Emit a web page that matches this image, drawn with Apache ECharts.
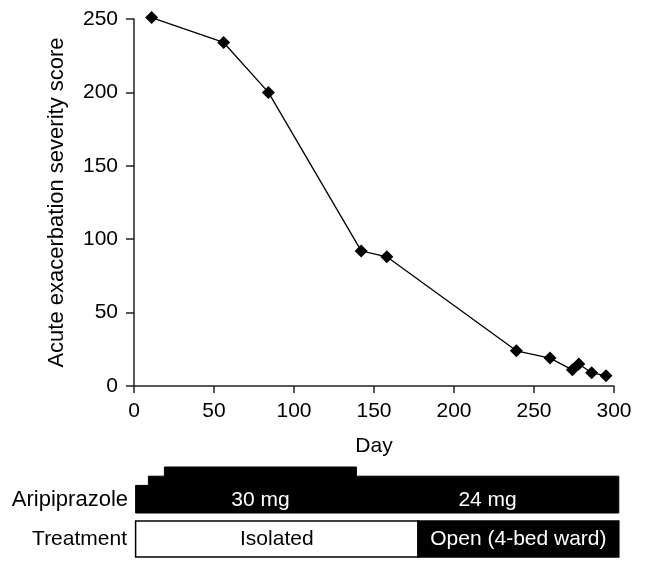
<!DOCTYPE html>
<html>
<head>
<meta charset="utf-8">
<script src="https://cdn.jsdelivr.net/npm/echarts@6/dist/echarts.min.js"></script>
<style>
html,body{margin:0;padding:0;background:#fff;}
#chart{width:646px;height:571px;}
</style>
</head>
<body>
<div id="chart"></div>
<script>
// Data
var days = [11, 56, 84, 142, 158, 239, 260, 274, 278, 286, 295];
var scores = [251, 234, 200, 92, 88, 24, 19, 11, 15, 9, 7];
var yTicks = [0, 50, 100, 150, 200, 250];
var xTicks = [0, 50, 100, 150, 200, 250, 300];

var doseStart = [1, 9, 19, 139];
var doseEnd = [9, 19, 139, 303];
var doseMg = [18, 24, 30, 24];
var doseLabel = ['', '', '30 mg', '24 mg'];

var treatStart = [1, 177.5];
var treatEnd = [177.5, 303];
var treatLabel = ['Isolated', 'Open (4-bed ward)'];

var rowLabels = ['Aripiprazole', 'Treatment'];

var FONT = '"Liberation Sans", Arial, sans-serif';

var chart = echarts.init(document.getElementById('chart'), null, {renderer: 'canvas'});

var doseData = doseStart.map(function (s, i) { return [s, doseEnd[i], doseMg[i]]; });
var treatData = treatStart.map(function (s, i) { return [s, treatEnd[i], i]; });

function renderDose(params, api) {
  var s = api.value(0), e = api.value(1), mg = api.value(2);
  var p0 = api.coord([s, 0]);
  var p1 = api.coord([e, mg]);
  var label = doseLabel[params.dataIndex];
  var children = [{
    type: 'rect',
    shape: {x: p0[0], y: p1[1], width: p1[0] - p0[0], height: p0[1] - p1[1]},
    style: {fill: '#000', stroke: '#000', lineWidth: 1}
  }];
  if (label) {
    var mid = api.coord([(s + e) / 2, 0]);
    children.push({
      type: 'text',
      z2: 10,
      style: {text: label, x: mid[0], y: mid[1] - 13, align: 'center', verticalAlign: 'middle',
        fill: '#fff', font: '21px ' + FONT}
    });
  }
  return {type: 'group', children: children};
}

function renderTreat(params, api) {
  var s = api.value(0), e = api.value(1), idx = api.value(2);
  var p0 = api.coord([s, 0]);
  var p1 = api.coord([e, 1]);
  var dark = idx === 1;
  var mid = api.coord([(s + e) / 2, 0.5]);
  return {type: 'group', children: [{
    type: 'rect',
    shape: {x: p0[0], y: p1[1], width: p1[0] - p0[0], height: p0[1] - p1[1]},
    style: {fill: dark ? '#000' : '#fff', stroke: '#000', lineWidth: 1.5}
  }, {
    type: 'text',
    z2: 10,
    style: {text: treatLabel[params.dataIndex], x: mid[0], y: mid[1], align: 'center', verticalAlign: 'middle',
      fill: dark ? '#fff' : '#000', font: '21px ' + FONT}
  }]};
}

var option = {
  backgroundColor: '#fff',
  animation: false,
  textStyle: {fontFamily: FONT},
  grid: [
    {left: 134, right: 32, top: 19, bottom: 185},
    {left: 134, right: 32, top: 467, height: 46},
    {left: 134, right: 32, top: 521, height: 36}
  ],
  xAxis: [{
    gridIndex: 0, type: 'value', min: 0, max: 300, interval: 50,
    name: 'Day', nameLocation: 'middle', nameGap: 50,
    nameTextStyle: {fontSize: 21, color: '#000', fontFamily: FONT},
    axisLine: {lineStyle: {color: '#222', width: 1.5}},
    axisTick: {length: 7, lineStyle: {color: '#222', width: 1.5}},
    axisLabel: {fontSize: 21, color: '#000', margin: 15, fontFamily: FONT,
      formatter: function (v) { return xTicks.indexOf(v) >= 0 ? String(v) : ''; }},
    splitLine: {show: false}
  }, {
    gridIndex: 1, type: 'value', min: 0, max: 300, show: false
  }, {
    gridIndex: 2, type: 'value', min: 0, max: 300, show: false
  }],
  yAxis: [{
    gridIndex: 0, type: 'value', min: 0, max: 250, interval: 50,
    name: 'Acute exacerbation severity score', nameLocation: 'middle', nameGap: 66,
    nameTextStyle: {fontSize: 22, color: '#000', fontFamily: FONT},
    axisLine: {show: true, lineStyle: {color: '#222', width: 1.5}},
    axisTick: {show: true, length: 8, lineStyle: {color: '#222', width: 1.5}},
    axisLabel: {fontSize: 21, color: '#000', margin: 16, fontFamily: FONT,
      formatter: function (v) { return yTicks.indexOf(v) >= 0 ? String(v) : ''; }},
    splitLine: {show: false}
  }, {
    gridIndex: 1, type: 'value', min: 0, max: 30, show: false
  }, {
    gridIndex: 2, type: 'value', min: 0, max: 1, show: false
  }],
  graphic: [{
    type: 'text',
    style: {text: rowLabels[0], x: 128, y: 500, align: 'right', verticalAlign: 'middle', fill: '#000', font: '22px ' + FONT}
  }, {
    type: 'text',
    style: {text: rowLabels[1], x: 127, y: 539, align: 'right', verticalAlign: 'middle', fill: '#000', font: '21px ' + FONT}
  }],
  series: [{
    type: 'line',
    xAxisIndex: 0, yAxisIndex: 0,
    data: days.map(function (d, i) { return [d, scores[i]]; }),
    symbol: 'diamond', symbolSize: 13, showAllSymbol: true,
    lineStyle: {color: '#000', width: 1.3},
    itemStyle: {color: '#000'},
    clip: false
  }, {
    type: 'custom',
    xAxisIndex: 1, yAxisIndex: 1,
    renderItem: renderDose,
    data: doseData,
    clip: false
  }, {
    type: 'custom',
    xAxisIndex: 2, yAxisIndex: 2,
    renderItem: renderTreat,
    data: treatData,
    clip: false
  }]
};
chart.setOption(option);
</script>
</body>
</html>
